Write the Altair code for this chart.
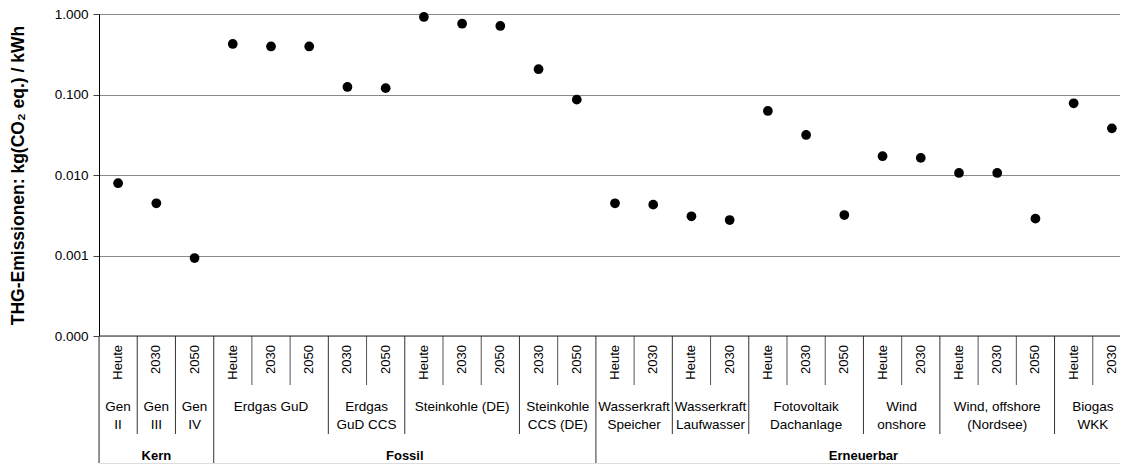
import altair as alt
import pandas as pd

# ---------------- data ----------------
categories = ["Kern", "Fossil", "Erneuerbar"]
tech_names = [
    "Gen\nII", "Gen\nIII", "Gen\nIV",
    "Erdgas GuD", "Erdgas\nGuD CCS", "Steinkohle (DE)", "Steinkohle\nCCS (DE)",
    "Wasserkraft\nSpeicher", "Wasserkraft\nLaufwasser", "Fotovoltaik\nDachanlage",
    "Wind\nonshore", "Wind, offshore\n(Nordsee)", "Biogas\nWKK",
]
tech_category = ["Kern"] * 3 + ["Fossil"] * 4 + ["Erneuerbar"] * 6
tech_years = [
    ["Heute"], ["2030"], ["2050"],
    ["Heute", "2030", "2050"], ["2030", "2050"],
    ["Heute", "2030", "2050"], ["2030", "2050"],
    ["Heute", "2030"], ["Heute", "2030"],
    ["Heute", "2030", "2050"], ["Heute", "2030"],
    ["Heute", "2030", "2050"], ["Heute", "2030"],
]
# kg(CO2 eq.)/kWh, in the order of the x slots
emissions = [
    0.0079, 0.00445, 0.00093,
    0.424, 0.395, 0.395,
    0.124, 0.120,
    0.918, 0.758, 0.710,
    0.206, 0.0863,
    0.00445, 0.00428,
    0.00307, 0.00276,
    0.0624, 0.0314, 0.00318,
    0.0171, 0.0163,
    0.0106, 0.0106, 0.00287,
    0.0778, 0.0380,
]
y_ticks = [0.0001, 0.001, 0.01, 0.1, 1]

# ---------------- tables built from the lists ----------------
pts, techs, cats = [], [], []
year_seps, tech_seps, cat_seps = [], [], [0]
slot = 0
for t_i, (name, cat, years) in enumerate(zip(tech_names, tech_category, tech_years)):
    start = slot
    for y_i, yr in enumerate(years):
        if y_i > 0:
            year_seps.append(slot)
        pts.append({"pos": slot + 0.5, "year": yr, "tech": name.replace("\n", " "),
                    "value": emissions[slot]})
        slot += 1
    techs.append({"center": (start + slot) / 2, "label": name})
    nxt = tech_category[t_i + 1] if t_i + 1 < len(tech_category) else None
    if nxt is None or nxt != cat:
        cat_seps.append(slot)
    else:
        tech_seps.append(slot)
n_slots = slot
cstart = 0
for c in categories:
    n = sum(len(y) for y, tc in zip(tech_years, tech_category) if tc == c)
    cats.append({"center": cstart + n / 2, "label": c})
    cstart += n

df_pts = pd.DataFrame(pts)
df_tech = pd.DataFrame(techs)
df_cat = pd.DataFrame(cats)
df_ysep = pd.DataFrame({"x": year_seps})
df_tsep = pd.DataFrame({"x": tech_seps})
df_csep = pd.DataFrame({"x": cat_seps})
df_base = pd.DataFrame({"x": [0], "x2": [n_slots]})

FONT = "Liberation Sans"
W = 1032
H_PLOT = 322
H_LAB = 127
xscale = alt.Scale(domain=[0, n_slots], nice=False, zero=False)

# ---------------- main plot ----------------
points = alt.Chart(df_pts).mark_point(filled=True, color="black", size=95, opacity=1).encode(
    x=alt.X("pos:Q", scale=xscale, axis=None),
    y=alt.Y("value:Q",
            scale=alt.Scale(type="log", domain=[0.0001, 1], nice=False),
            axis=alt.Axis(values=y_ticks, format=".3f",
                          title="THG-Emissionen: kg(CO₂ eq.) / kWh",
                          titleFont=FONT, titleFontSize=17.5, titleFontWeight="bold",
                          titleColor="black", titleX=-81, titleBaseline="middle",
                          labelFont=FONT, labelFontSize=13.5, labelColor="black",
                          labelPadding=5, tickSize=6, tickColor="#444",
                          gridColor="#8a8a8a", gridWidth=1,
                          domainColor="black", domainWidth=1)),
)
right_border = alt.Chart(df_base).mark_rule(color="#999", strokeWidth=1).encode(
    x=alt.X("x2:Q", scale=xscale, axis=None), y=alt.value(0), y2=alt.value(H_PLOT))
top = alt.layer(points, right_border).properties(width=W, height=H_PLOT)

# ---------------- multi-level category axis ----------------
bx = alt.X("x:Q", scale=xscale, axis=None)
base_rule = alt.Chart(df_base).mark_rule(color="#222", strokeWidth=1.2).encode(
    x=bx, x2="x2:Q", y=alt.value(0))
year_rules = alt.Chart(df_ysep).mark_rule(color="#555", strokeWidth=1).encode(
    x=bx, y=alt.value(0), y2=alt.value(49))
tech_rules = alt.Chart(df_tsep).mark_rule(color="#333", strokeWidth=1).encode(
    x=bx, y=alt.value(0), y2=alt.value(98))
cat_rules = alt.Chart(df_csep).mark_rule(color="#555", strokeWidth=1.2).encode(
    x=bx, y=alt.value(0), y2=alt.value(H_LAB))

year_text = alt.Chart(df_pts).mark_text(
    angle=270, align="right", baseline="middle", font=FONT, fontSize=13, color="black"
).encode(x=alt.X("pos:Q", scale=xscale, axis=None), y=alt.value(9), text="year:N")

tech_text = alt.Chart(df_tech).mark_text(
    align="center", baseline="top", font=FONT, fontSize=13.5, color="black",
    lineBreak="\n", lineHeight=18
).encode(x=alt.X("center:Q", scale=xscale, axis=None), y=alt.value(64), text="label:N")

cat_text = alt.Chart(df_cat).mark_text(
    align="center", baseline="middle", font=FONT, fontSize=13, fontWeight="bold",
    color="black"
).encode(x=alt.X("center:Q", scale=xscale, axis=None), y=alt.value(120), text="label:N")

labels = alt.layer(cat_rules, tech_rules, year_rules, base_rule,
                   year_text, tech_text, cat_text).properties(width=W, height=H_LAB)

chart = alt.vconcat(top, labels, spacing=0, bounds="flush").properties(
    padding={"left": 0, "top": -2, "right": -13, "bottom": 0}
).configure_view(strokeOpacity=0).configure(background="white")

chart.save("out.html", embed_options={"renderer": "svg", "actions": False})
